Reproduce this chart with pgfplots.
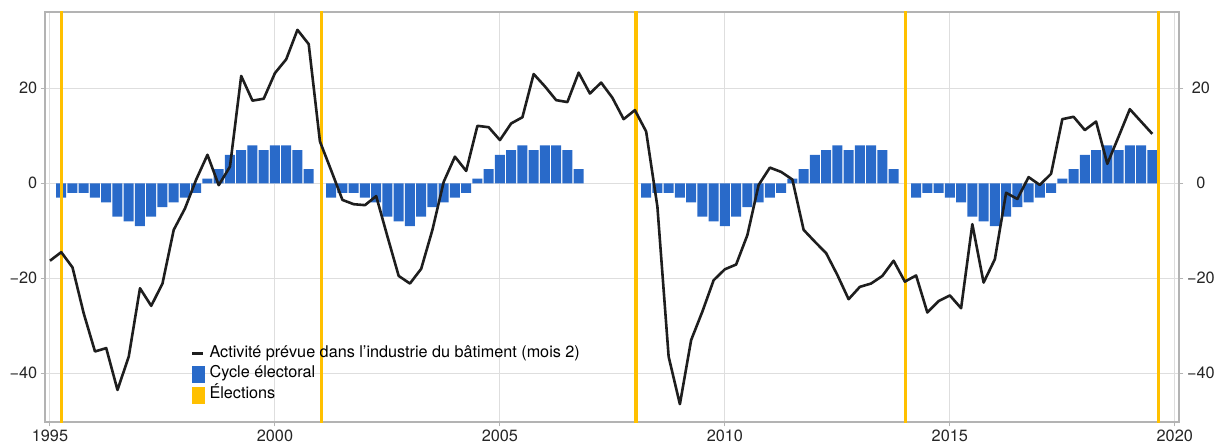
\documentclass[border=0pt]{standalone}
\usepackage{fontspec}
\setmainfont{TeX Gyre Heros}
\usepackage{pgfplots}
\usepackage{pgfplotstable}
\pgfplotsset{compat=1.18}
\definecolor{cycblue}{HTML}{296AC9}
\definecolor{elyellow}{HTML}{FFC000}
\definecolor{linedark}{HTML}{1E1E1E}
\definecolor{bordergray}{HTML}{B3B3B3}
\definecolor{gridgray}{HTML}{DEDEDE}

\pgfplotstableread{
x y
1995.00 -16.3
1995.25 -14.5
1995.50 -17.7
1995.75 -27.4
1996.00 -35.4
1996.25 -34.7
1996.50 -43.5
1996.75 -36.5
1997.00 -22.1
1997.25 -25.8
1997.50 -21.1
1997.75 -9.8
1998.00 -5.3
1998.25 0.8
1998.50 6.0
1998.75 -0.4
1999.00 3.5
1999.25 22.6
1999.50 17.4
1999.75 17.8
2000.00 23.2
2000.25 26.1
2000.50 32.3
2000.75 29.3
2001.00 8.8
2001.25 2.7
2001.50 -3.5
2001.75 -4.4
2002.00 -4.6
2002.25 -2.7
2002.50 -11.2
2002.75 -19.5
2003.00 -21.1
2003.25 -18.0
2003.50 -9.8
2003.75 0.3
2004.00 5.6
2004.25 2.6
2004.50 12.1
2004.75 11.8
2005.00 9.1
2005.25 12.6
2005.50 13.9
2005.75 23.0
2006.00 20.4
2006.25 17.5
2006.50 17.1
2006.75 23.3
2007.00 18.9
2007.25 21.2
2007.50 18.0
2007.75 13.5
2008.00 15.4
2008.25 10.9
2008.50 -4.9
2008.75 -36.5
2009.00 -46.5
2009.25 -33.0
2009.50 -27.0
2009.75 -20.4
2010.00 -18.1
2010.25 -17.1
2010.50 -10.9
2010.75 -0.35
2011.00 3.3
2011.25 2.4
2011.50 0.8
2011.75 -9.8
2012.00 -12.3
2012.25 -14.7
2012.50 -19.3
2012.75 -24.4
2013.00 -21.8
2013.25 -21.1
2013.50 -19.5
2013.75 -16.3
2014.00 -20.7
2014.25 -19.4
2014.50 -27.2
2014.75 -24.8
2015.00 -23.6
2015.25 -26.3
2015.50 -8.6
2015.75 -20.9
2016.00 -16.0
2016.25 -2.0
2016.50 -3.3
2016.75 1.3
2017.00 -0.35
2017.25 2.0
2017.50 13.5
2017.75 14.0
2018.00 11.2
2018.25 13.0
2018.50 4.1
2018.75 9.8
2019.00 15.6
2019.25 13.0
2019.50 10.4
}\activite

\pgfplotstableread{
x y
1995.25 -3
1995.50 -2
1995.75 -2
1996.00 -3
1996.25 -4
1996.50 -7
1996.75 -8
1997.00 -9
1997.25 -7
1997.50 -5
1997.75 -4
1998.00 -3
1998.25 -2
1998.50 1
1998.75 3
1999.00 6
1999.25 7
1999.50 8
1999.75 7
2000.00 8
2000.25 8
2000.50 7
2000.75 3
2001.25 -3
2001.50 -2
2001.75 -2
2002.00 -3
2002.25 -4
2002.50 -7
2002.75 -8
2003.00 -9
2003.25 -7
2003.50 -5
2003.75 -4
2004.00 -3
2004.25 -2
2004.50 1
2004.75 3
2005.00 6
2005.25 7
2005.50 8
2005.75 7
2006.00 8
2006.25 8
2006.50 7
2006.75 3
2008.25 -3
2008.50 -2
2008.75 -2
2009.00 -3
2009.25 -4
2009.50 -7
2009.75 -8
2010.00 -9
2010.25 -7
2010.50 -5
2010.75 -4
2011.00 -3
2011.25 -2
2011.50 1
2011.75 3
2012.00 6
2012.25 7
2012.50 8
2012.75 7
2013.00 8
2013.25 8
2013.50 7
2013.75 3
2014.25 -3
2014.50 -2
2014.75 -2
2015.00 -3
2015.25 -4
2015.50 -7
2015.75 -8
2016.00 -9
2016.25 -7
2016.50 -5
2016.75 -4
2017.00 -3
2017.25 -2
2017.50 1
2017.75 3
2018.00 6
2018.25 7
2018.50 8
2018.75 7
2019.00 8
2019.25 8
2019.50 7
}\cycle

\begin{document}
\begin{tikzpicture}
\pgfplotsset{
  common/.style={
    at={(45pt,23pt)}, anchor=south west,
    scale only axis, width=1134pt, height=410pt,
    xmin=1994.889, xmax=2020.093,
    ymin=-50.25, ymax=36.06,
    ytick={-40,-20,0,20},
    yticklabels={−40,−20,0,20},
    xtick={1995,2000,2005,2010,2015,2020},
    tick align=outside,
    major tick length=4.3pt,
    major tick style={color=bordergray, line width=1pt},
    /pgf/number format/assume math mode=true,
    tick label style={font=\fontsize{16.3}{19}\selectfont, color=black!85},
    xticklabel style={/pgf/number format/1000 sep=},
  }
}
\begin{axis}[common,
    axis line style={color=bordergray, line width=1.5pt},
    xtick pos=left, ytick pos=left,
    grid=major,
    major grid style={color=gridgray, line width=1pt},
    legend style={at={(axis cs:1998.12,-34.0)}, anchor=north west,
      draw=none, fill=none, inner sep=0pt, row sep=4.6pt, column sep=5pt,
      font=\fontsize{16.2}{19}\selectfont,
      nodes={inner sep=0pt, text height=12pt, text depth=4pt}},
    legend cell align=left,
  ]
  \addplot[ybar, bar width=0.222, bar shift=0pt, fill=cycblue, draw=none, forget plot] table {\cycle};
  \addplot[elyellow, line width=3.6pt, forget plot, unbounded coords=jump] coordinates {
    (1995.26,-52) (1995.26,38) (1995.26,nan)
    (2001.03,-52) (2001.03,38) (2001.03,nan)
    (2008.02,-52) (2008.02,38) (2008.02,nan)
    (2014.01,-52) (2014.01,38) (2014.01,nan)
    (2019.64,-52) (2019.64,38)
  };
  \addplot[linedark, line width=2.6pt, line join=round, mark=none, forget plot] table {\activite};
  \addlegendimage{legend image code/.code={\draw[linedark, line width=3pt] (0pt,0pt) -- (11pt,0pt);}}
  \addlegendentry{Activité prévue dans l’industrie du bâtiment (mois 2)}
  \addlegendimage{legend image code/.code={\fill[cycblue] (0pt,-8pt) rectangle (12pt,8pt);}}
  \addlegendentry{Cycle électoral}
  \addlegendimage{legend image code/.code={\fill[elyellow] (0pt,-8pt) rectangle (12pt,8pt);}}
  \addlegendentry{Élections}
\end{axis}
\begin{axis}[common,
    axis line style={draw=none},
    hide x axis,
    ytick pos=right, yticklabel pos=right,
    yticklabel style={text width=28pt, align=center},
  ]
\end{axis}
\pgfresetboundingbox
\path (0,0) rectangle (1217pt,445pt);
\end{tikzpicture}
\end{document}
